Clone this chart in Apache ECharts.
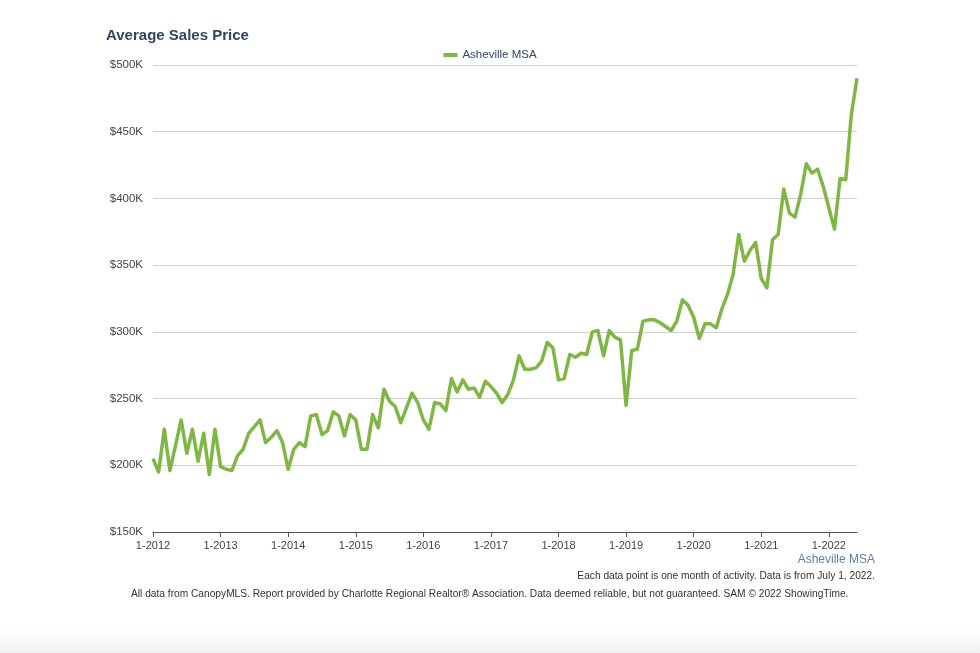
<!DOCTYPE html>
<html>
<head>
<meta charset="utf-8">
<script src="https://cdn.jsdelivr.net/npm/echarts@6/dist/echarts.min.js"></script>
<style>
html,body{margin:0;padding:0;background:#fff;}
#c{width:980px;height:653px;}
</style>
</head>
<body>
<div id="c"></div>
<script>
// Month labels (one per data point, Jan 2012 .. Jun 2022)
var startYear = 2012;
var monthCount = 126;
var categories = [];
for (var k = 0; k < monthCount; k++) {
  categories.push(((k % 12) + 1) + '-' + (startYear + Math.floor(k / 12)));
}

var seriesName = 'Asheville MSA';
// Average sales price, in $K
var avgPrice = [
  205,195,227,196,215,234,209,227,203,224,193,227,
  199,197,196,207,212,224,229,234,217,221,226,217,
  197,212,217,214,237,238,223,226,240,237,222,238,
  234,212,212,238,228,257,248,244,232,243,254,247,
  234,227,247,246,241,265,255,264,257,258,251,263,
  259,254,247,253,264,282,272,272,273,278,292,288,
  264,265,283,281,284,283,300,301,282,301,296,294,
  245,286,287,308,309,309,307,304,301,308,324,320,
  311,295,306,306,303,317,328,343,373,353,361,367,
  340,333,369,373,407,389,386,403,426,419,422,409,
  393,377,415,414,463,490
];

var yTicks = [150, 200, 250, 300, 350, 400, 450, 500];

var chart = echarts.init(document.getElementById('c'));
var font = 'Liberation Sans, Arial, Helvetica, sans-serif';
chart.setOption({
  backgroundColor: '#ffffff',
  animation: false,
  title: {
    text: 'Average Sales Price',
    left: 101, top: 23,
    textStyle: {fontFamily: font, fontSize: 15, fontWeight: 'bold', color: '#2f4566'}
  },
  legend: {
    data: [seriesName],
    left: 'center', top: 44,
    itemWidth: 14, itemHeight: 4, itemGap: 6,
    icon: 'rect',
    textStyle: {fontFamily: font, fontSize: 11.5, color: '#2f4566'}
  },
  grid: {left: 153, right: 123, top: 65, bottom: 121, containLabel: false},
  xAxis: {
    type: 'category',
    data: categories,
    boundaryGap: false,
    axisLine: {lineStyle: {color: '#555', width: 1.2}},
    axisTick: {
      interval: function (i) { return i % 12 === 0; },
      length: 5, lineStyle: {color: '#555'}
    },
    axisLabel: {
      interval: function (i) { return i % 12 === 0; },
      fontFamily: font, fontSize: 11, color: '#444', margin: 8
    },
    splitLine: {show: false}
  },
  yAxis: {
    type: 'value',
    min: yTicks[0], max: yTicks[yTicks.length - 1], interval: 50,
    axisLine: {show: false},
    axisTick: {show: false},
    axisLabel: {
      formatter: function (v) { return '$' + v + 'K'; },
      fontFamily: font, fontSize: 11.5, color: '#444', margin: 10
    },
    splitLine: {lineStyle: {color: '#cfcfcf', width: 1}}
  },
  series: [{
    name: seriesName,
    type: 'line',
    data: avgPrice,
    symbol: 'none',
    lineStyle: {color: '#80b646', width: 3.5, join: 'round'},
    itemStyle: {color: '#80b646'}
  }],
  graphic: [
    {type: 'text', right: 105, top: 554,
     style: {text: 'Asheville MSA', font: '12px ' + font, fill: '#5d7fa8', textAlign: 'right'}},
    {type: 'text', right: 105, top: 571,
     style: {text: 'Each data point is one month of activity. Data is from July 1, 2022.', font: '10.2px ' + font, fill: '#333'}},
    {type: 'text', left: 131, top: 589,
     style: {text: 'All data from CanopyMLS. Report provided by Charlotte Regional Realtor\u00ae Association. Data deemed reliable, but not guaranteed. SAM \u00a9 2022 ShowingTime.', font: '10.2px ' + font, fill: '#333'}},
    {type: 'rect', left: 0, top: 628, shape: {width: 980, height: 25},
     style: {fill: new echarts.graphic.LinearGradient(0, 0, 0, 1, [{offset: 0, color: 'rgba(0,0,0,0)'}, {offset: 1, color: 'rgba(0,0,0,0.06)'}])},
     silent: true}
  ]
});
</script>
</body>
</html>
